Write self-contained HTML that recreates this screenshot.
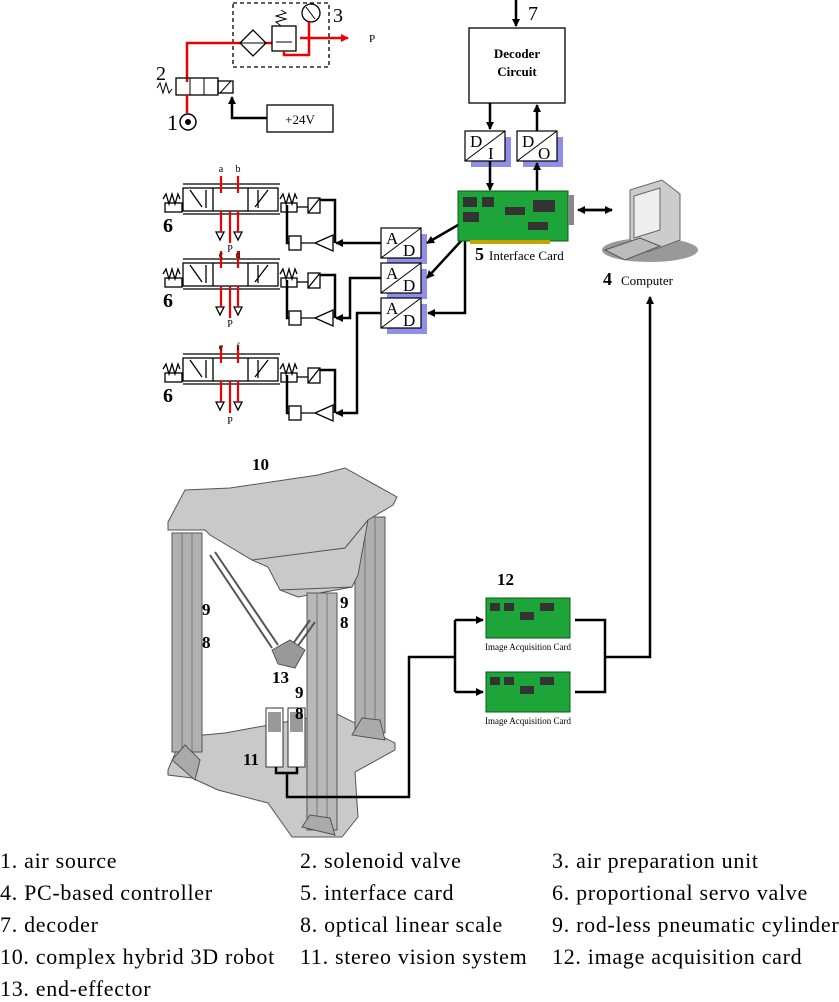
<!DOCTYPE html>
<html><head><meta charset="utf-8"><style>
body{margin:0;background:#fff;width:839px;height:1000px;overflow:hidden}
svg{position:absolute;left:0;top:0}
.leg{position:absolute;font-family:"Liberation Serif",serif;font-size:22px;letter-spacing:0.7px;color:#000;white-space:nowrap}
</style></head><body>
<svg width="839" height="1000" viewBox="0 0 839 1000" font-family="Liberation Serif,serif">
<defs>
<marker id="ar" markerWidth="8" markerHeight="8" refX="7" refY="4" orient="auto" markerUnits="userSpaceOnUse"><path d="M0,0 L8,4 L0,8z" fill="#000"/></marker>
<marker id="arr" markerWidth="8" markerHeight="8" refX="7" refY="4" orient="auto" markerUnits="userSpaceOnUse"><path d="M0,0 L8,4 L0,8z" fill="#e00"/></marker>
<g id="valve" fill="none" stroke="#000" stroke-width="1.3">
<path d="M163,199 l3,-5 l3,10 l3,-10 l3,10 l3,-10 l2,5"/>
<line x1="183" y1="184" x2="280" y2="184"/><line x1="183" y1="214" x2="280" y2="214"/>
<rect x="183" y="188" width="95" height="23"/>
<line x1="213" y1="188" x2="213" y2="211"/><line x1="248" y1="188" x2="248" y2="211"/>
<rect x="165" y="203" width="17" height="9"/>
<path d="M190,190 L202,207 M206,190 v18 M255,207 L268,190 M258,190 v18"/>
<path d="M280,199 l3,-5 l3,10 l3,-10 l3,10 l3,-10 l2,5"/>
<rect x="281" y="203" width="16" height="9"/>
<path d="M297,207 H308"/><rect x="308" y="198" width="12" height="15"/><path d="M308,213 L320,198"/>
<path d="M320,200 H335 V243" stroke-width="2.5"/>
<path d="M287,205 V243 H289" stroke-width="2.5"/>
<rect x="289" y="236" width="12" height="14"/>
<path d="M301,243 H315 M315,243 L333,235 V251z"/>
<path d="M216,232 l4,8 l4,-8z M234,232 l4,8 l4,-8z"/>
</g>
<g id="vred" stroke="#e00" stroke-width="2.2" fill="none">
<line x1="221" y1="176" x2="221" y2="193"/><line x1="238" y1="176" x2="238" y2="193"/>
<line x1="221" y1="211" x2="221" y2="232"/><line x1="238" y1="211" x2="238" y2="232"/>
<line x1="230" y1="211" x2="230" y2="243"/>
</g>
<g id="ad"><rect x="6" y="6" width="40" height="30" fill="#8f8fe8"/><rect x="0" y="0" width="40" height="30" fill="#fff" stroke="#000" stroke-width="1.2"/><line x1="0" y1="30" x2="40" y2="0" stroke="#000"/></g>
</defs>

<!-- pneumatic top -->
<rect x="233" y="3" width="96" height="64" fill="none" stroke="#000" stroke-width="1.3" stroke-dasharray="4,3"/>
<path d="M187,82 V43 H240 M266,43 H272 M300,38 H348" stroke="#e00" stroke-width="2.5" fill="none" marker-end="url(#arr)"/>
<path d="M240,43 L253,30 L266,43 L253,56z" fill="none" stroke="#000" stroke-width="1.3"/>
<line x1="240" y1="43" x2="266" y2="43" stroke="#000" stroke-width="1"/>
<rect x="272" y="26" width="24" height="25" fill="none" stroke="#000" stroke-width="1.3"/>
<path d="M276,42 H292" stroke="#000"/>
<path d="M281,26 l-5,-4 l10,-3 l-10,-3 l10,-3 l-5,-3" fill="none" stroke="#000"/>
<circle cx="311" cy="13" r="9" fill="#fff" stroke="#000" stroke-width="1.3"/><line x1="306" y1="7" x2="315" y2="19" stroke="#000"/>
<path d="M309,22 V55 H284 V51" stroke="#e00" stroke-width="2.5" fill="none"/>
<text x="333" y="22" font-size="20">3</text>
<text x="369" y="42" font-size="11">P</text>
<text x="156" y="80" font-size="20">2</text>
<path d="M157,88 l3,-5 l3,10 l3,-10 l3,10 l3,-4" fill="none" stroke="#000"/>
<rect x="176" y="78" width="42" height="17" fill="none" stroke="#000" stroke-width="1.3"/>
<line x1="190" y1="78" x2="190" y2="95" stroke="#000"/><line x1="204" y1="78" x2="204" y2="95" stroke="#000"/>
<rect x="218" y="81" width="15" height="12" fill="none" stroke="#000" stroke-width="1.3"/><line x1="220" y1="93" x2="231" y2="81" stroke="#000"/>
<path d="M187,95 V113" stroke="#e00" stroke-width="2.5"/>
<circle cx="188" cy="122" r="8" fill="none" stroke="#000" stroke-width="1.5"/><circle cx="188" cy="122" r="3" fill="#000"/>
<text x="167" y="130" font-size="22">1</text>
<path d="M267,118 H232 V97" stroke="#000" stroke-width="2.5" fill="none" marker-end="url(#ar)"/>
<rect x="267" y="105" width="66" height="27" fill="#fff" stroke="#000" stroke-width="1.3"/>
<text x="300" y="124" font-size="13" text-anchor="middle">+24V</text>

<!-- valves -->
<use href="#valve"/><use href="#vred"/>
<use href="#valve" y="75"/><use href="#vred" y="75"/>
<use href="#valve" y="170"/><use href="#vred" y="170"/>
<g font-size="10" text-anchor="middle">
<text x="221" y="172">a</text><text x="238" y="172">b</text><text x="230" y="252">P</text>
<text x="221" y="258">c</text><text x="238" y="258">d</text><text x="230" y="327">P</text>
<text x="221" y="350">e</text><text x="238" y="350">f</text><text x="230" y="424">P</text>
</g>
<g font-size="20" font-weight="bold"><text x="163" y="232">6</text><text x="163" y="307">6</text><text x="163" y="402">6</text></g>

<!-- A/D -->
<use href="#ad" x="381" y="228"/><use href="#ad" x="381" y="263"/><use href="#ad" x="381" y="298"/>
<g font-size="17"><text x="386" y="244">A</text><text x="403" y="256">D</text><text x="386" y="279">A</text><text x="403" y="291">D</text><text x="386" y="314">A</text><text x="403" y="326">D</text></g>
<g stroke="#000" stroke-width="2.5" fill="none" marker-end="url(#ar)">
<path d="M381,243 H336"/>
<path d="M381,278 H350 V318 H336"/>
<path d="M381,313 H357 V413 H336"/>
<path d="M458,225 L427,243"/><path d="M462,240 L427,278"/><path d="M465,240 V313 H428"/>
</g>

<!-- decoder -->
<rect x="469" y="28" width="96" height="75" fill="#fff" stroke="#000" stroke-width="1.3"/>
<text x="517" y="58" font-size="13" font-weight="bold" text-anchor="middle">Decoder</text>
<text x="517" y="76" font-size="13" font-weight="bold" text-anchor="middle">Circuit</text>
<path d="M516,0 V26" stroke="#000" stroke-width="2.5" marker-end="url(#ar)"/>
<text x="528" y="20" font-size="20">7</text>
<use href="#ad" x="465" y="131"/><use href="#ad" x="517" y="131"/>
<g font-size="17"><text x="470" y="147">D</text><text x="488" y="159">I</text><text x="522" y="147">D</text><text x="538" y="159">O</text></g>
<g stroke="#000" stroke-width="2.5" fill="none" marker-end="url(#ar)">
<path d="M490,103 V129"/><path d="M537,131 V105"/><path d="M490,161 V190"/><path d="M537,192 V163"/>
<path d="M585,210 H612"/><path d="M612,210 H578"/>
</g>
<!-- interface card -->
<rect x="458" y="191" width="110" height="50" fill="#1ea53a" stroke="#0a5a10"/>
<rect x="568" y="195" width="6" height="30" fill="#888"/>
<g fill="#333"><rect x="463" y="197" width="14" height="10"/><rect x="482" y="197" width="12" height="10"/><rect x="463" y="212" width="16" height="10"/><rect x="505" y="207" width="20" height="8"/><rect x="533" y="200" width="22" height="12"/><rect x="528" y="222" width="20" height="8"/></g>
<rect x="470" y="240" width="80" height="4" fill="#c9a200"/>
<text x="475" y="260" font-size="18" font-weight="bold">5</text>
<text x="489" y="260" font-size="13">Interface Card</text>
<!-- computer -->
<ellipse cx="650" cy="250" rx="48" ry="12" fill="#999"/>
<path d="M630,190 L662,180 L680,194 L680,240 L648,252 L630,240z" fill="#ccc" stroke="#666"/>
<path d="M634,196 L660,188 L660,230 L634,238z" fill="#eee" stroke="#666"/>
<path d="M605,250 L640,238 L660,246 L625,260z" fill="#bbb" stroke="#555"/>
<text x="603" y="285" font-size="18" font-weight="bold">4</text>
<text x="621" y="285" font-size="13">Computer</text>

<!-- robot -->
<g fill="#c9c9c9" stroke="#555" stroke-width="1">
<path d="M168,770 L182,737 L225,733 L280,723 L335,713 L395,743 L395,750 L355,772 L358,817 L342,837 L292,837 L268,803 L218,790 L192,778 L168,775z"/>
<path d="M172,533 L172,752 L202,752 L202,533z" fill="#b0b0b0"/>
<path d="M355,517 L355,733 L385,733 L385,517z" fill="#b0b0b0"/>
<line x1="182" y1="533" x2="182" y2="752" stroke="#777"/><line x1="192" y1="533" x2="192" y2="752" stroke="#777"/>
<line x1="365" y1="517" x2="365" y2="733" stroke="#777"/><line x1="375" y1="517" x2="375" y2="733" stroke="#777"/>
<path d="M168,522 L185,490 L230,488 L318,475 L345,468 L397,497 L393,505 L368,520 L358,575 L352,587 L298,597 L280,590 L268,567 L252,560 L210,535 L205,530 L168,530z"/>
<path d="M252,560 L345,548 L368,520 M280,590 L352,587" fill="none"/>
<path d="M307,593 L307,830 L337,830 L337,593z" fill="#b8b8b8"/>
<line x1="317" y1="593" x2="317" y2="830" stroke="#777"/><line x1="327" y1="593" x2="327" y2="830" stroke="#777"/>
<path d="M210,555 L272,648 M215,552 L278,645 M310,620 L285,655 M315,622 L290,657" stroke="#555" stroke-width="2" fill="none"/>
<path d="M272,650 L290,640 L305,650 L295,668 L278,664z" fill="#999"/>
<path d="M172,760 L185,745 L200,760 L195,780z M352,735 L362,718 L380,720 L385,740z M302,827 L310,815 L330,818 L335,835z" fill="#aaa"/>
</g>
<rect x="266" y="708" width="17" height="59" fill="#fff" stroke="#333"/><rect x="288" y="708" width="17" height="59" fill="#fff" stroke="#333"/>
<rect x="268" y="712" width="13" height="20" fill="#999"/><rect x="290" y="712" width="13" height="20" fill="#999"/>
<g font-weight="bold" font-size="17">
<text x="252" y="470">10</text><text x="202" y="615">9</text><text x="202" y="648">8</text>
<text x="340" y="608">9</text><text x="340" y="628">8</text>
<text x="272" y="683">13</text><text x="295" y="698">9</text><text x="295" y="719">8</text>
<text x="243" y="765">11</text>
</g>
<!-- vision wiring -->
<g stroke="#000" stroke-width="2.5" fill="none">
<path d="M276,767 V773 H297 V767 M287,773 V797 H409 V657 H455"/>
<path d="M455,620 V692" />
<path d="M455,620 H483" marker-end="url(#ar)"/><path d="M455,692 H483" marker-end="url(#ar)"/>
<path d="M575,620 H605 V692 H575"/>
<path d="M605,657 H650 V297" marker-end="url(#ar)"/>
</g>
<g>
<rect x="486" y="598" width="84" height="40" fill="#1ea53a" stroke="#0a5a10"/>
<rect x="486" y="672" width="84" height="40" fill="#1ea53a" stroke="#0a5a10"/>
<g fill="#333"><rect x="490" y="603" width="10" height="8"/><rect x="504" y="603" width="10" height="8"/><rect x="520" y="612" width="14" height="8"/><rect x="540" y="603" width="14" height="8"/>
<rect x="490" y="677" width="10" height="8"/><rect x="504" y="677" width="10" height="8"/><rect x="520" y="686" width="14" height="8"/><rect x="540" y="677" width="14" height="8"/></g>
</g>
<text x="497" y="585" font-size="17" font-weight="bold">12</text>
<text x="528" y="650" font-size="9" text-anchor="middle">Image Acquisition Card</text>
<text x="528" y="724" font-size="9" text-anchor="middle">Image Acquisition Card</text>
</svg>
<div class="leg" style="left:0;top:848px">1. air source</div>
<div class="leg" style="left:300px;top:848px">2. solenoid valve</div>
<div class="leg" style="left:552px;top:848px">3. air preparation unit</div>
<div class="leg" style="left:0;top:880px">4. PC-based controller</div>
<div class="leg" style="left:300px;top:880px">5. interface card</div>
<div class="leg" style="left:552px;top:880px">6. proportional servo valve</div>
<div class="leg" style="left:0;top:912px">7. decoder</div>
<div class="leg" style="left:300px;top:912px">8. optical linear scale</div>
<div class="leg" style="left:552px;top:912px">9. rod-less pneumatic cylinder</div>
<div class="leg" style="left:0;top:944px">10. complex hybrid 3D robot</div>
<div class="leg" style="left:300px;top:944px">11. stereo vision system</div>
<div class="leg" style="left:552px;top:944px">12. image acquisition card</div>
<div class="leg" style="left:0;top:976px">13. end-effector</div>
</body></html>
